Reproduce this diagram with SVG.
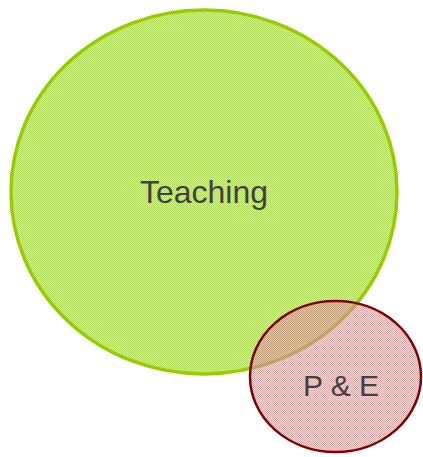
<svg xmlns="http://www.w3.org/2000/svg" width="423" height="457" viewBox="0 0 423 457">
<defs>
<pattern id="g" width="2" height="2" patternUnits="userSpaceOnUse">
<rect width="2" height="2" fill="#d6ecaa"/>
<rect width="1" height="1" fill="#b0d85c"/>
<rect x="1" y="1" width="1" height="1" fill="#b0d85c"/>
</pattern>
<pattern id="p" width="2" height="2" patternUnits="userSpaceOnUse">
<rect width="2" height="2" fill="#e0b0b0" fill-opacity="0.4"/>
<rect width="1" height="1" fill="#b87070" fill-opacity="0.5"/>
<rect x="1" y="1" width="1" height="1" fill="#b87070" fill-opacity="0.5"/>
</pattern>
<style>
.lbl{font-family:"Liberation Sans",Arial,sans-serif;fill:#404040;text-anchor:middle}
</style>
</defs>
<g id="teaching">
<ellipse cx="204" cy="192" rx="193" ry="182" fill="url(#g)" stroke="#99cc00" stroke-width="3.5"/>
<text class="lbl" x="204" y="203" font-size="32">Teaching</text>
</g>
<g id="pe">
<ellipse cx="335.5" cy="376.5" rx="85.5" ry="75.5" fill="url(#p)" stroke="#800000" stroke-width="2.5"/>
<text class="lbl" x="341" y="396" font-size="30">P &amp; E</text>
</g>
<g id="connectors"/>
</svg>
